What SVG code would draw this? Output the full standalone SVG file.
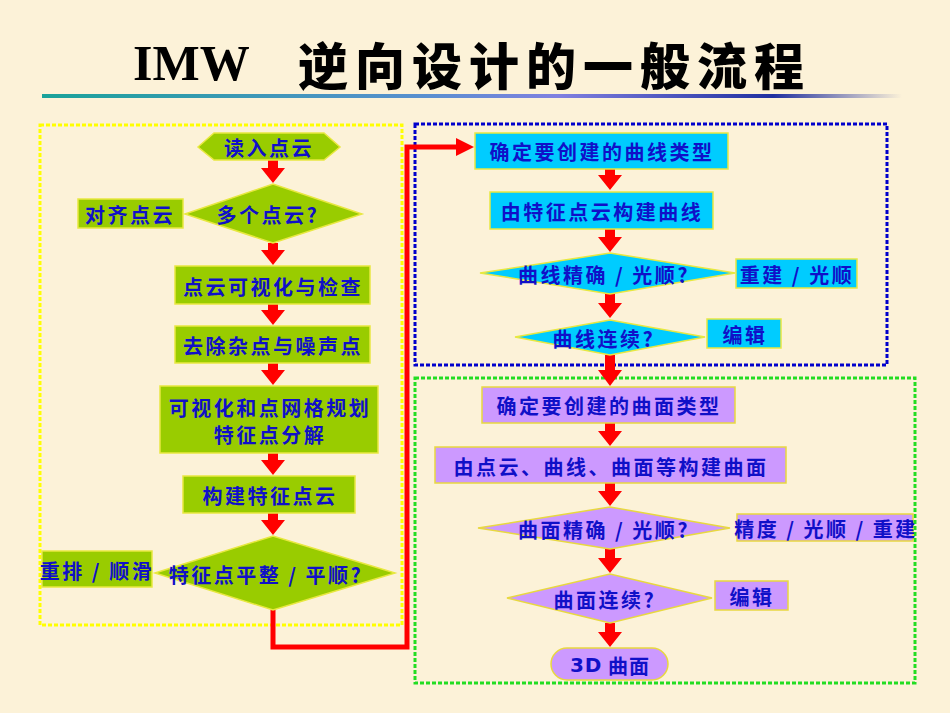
<svg xmlns="http://www.w3.org/2000/svg" width="950" height="713" viewBox="0 0 950 713">
<defs>
<linearGradient id="ln" x1="0" x2="1" y1="0" y2="0">
<stop offset="0" stop-color="#1aa39a"/><stop offset="0.45" stop-color="#5a8fd0"/><stop offset="0.6" stop-color="#8080e0"/><stop offset="0.85" stop-color="#2030a0"/><stop offset="1" stop-color="#2030a0" stop-opacity="0"/>
</linearGradient>
</defs>
<style>
text{font-family:"Noto Sans CJK SC",sans-serif;font-weight:bold;fill:#1010c8;font-size:20px;letter-spacing:2.5px;text-anchor:middle;dominant-baseline:central}
.g{fill:#99cc00;stroke:#e8e840;stroke-width:1.5}
.b{fill:#00ccff;stroke:#e8e840;stroke-width:1.5}
.p{fill:#cc99ff;stroke:#e8d840;stroke-width:1.5}
.arr{fill:#ff0000}
.frame{fill:none;stroke-width:3;stroke-dasharray:4 2}
</style>
<rect width="950" height="713" fill="#fcf2d8"/>
<text y="63" style="font-family:'Liberation Serif',serif;font-size:50px;fill:#000;text-anchor:start;letter-spacing:0"><tspan x="133">IMW</tspan><tspan x="298" style="font-family:'Noto Sans CJK SC',sans-serif;font-weight:900;font-size:50px;letter-spacing:7px">逆向设计的一般流程</tspan></text>
<rect x="42" y="94" width="860" height="4" fill="url(#ln)"/>
<rect class="frame" x="40" y="125" width="362" height="500" stroke="#ffff00"/>
<rect class="frame" x="415" y="124" width="472" height="241" stroke="#0000cc"/>
<rect class="frame" x="415" y="378" width="500" height="305" stroke="#22dd22"/>
<g id="connectors">
<polyline points="273,610 273,647 407,647 407,147 458,147" fill="none" stroke="#ff0000" stroke-width="5"/>
<polygon class="arr" points="456,138 474,147 456,156"/>
<g class="arr">
<polygon points="268,160 278,160 278,168 285,168 273,183 261,168 268,168"/>
<polygon points="268,243 278,243 278,250 285,250 273,265 261,250 268,250"/>
<polygon points="268,304 278,304 278,310 285,310 273,325 261,310 268,310"/>
<polygon points="268,363 278,363 278,370 285,370 273,385 261,370 268,370"/>
<polygon points="268,453 278,453 278,460 285,460 273,475 261,460 268,460"/>
<polygon points="268,513 278,513 278,520 285,520 273,535 261,520 268,520"/>
<polygon points="605,169 615,169 615,175 622,175 610,190 598,175 605,175"/>
<polygon points="605,229 615,229 615,237 622,237 610,252 598,237 605,237"/>
<polygon points="605,294 615,294 615,303 622,303 610,318 598,303 605,303"/>
<polygon points="605,355 615,355 615,370 622,370 610,386 598,370 605,370"/>
<polygon points="605,423 615,423 615,431 622,431 610,446 598,431 605,431"/>
<polygon points="605,483 615,483 615,491 622,491 610,506 598,491 605,491"/>
<polygon points="605,549 615,549 615,558 622,558 610,573 598,558 605,558"/>
<polygon points="605,623 615,623 615,632 622,632 610,647 598,632 605,632"/>
</g>
</g>
<g id="n1"><polygon class="g" points="198,147 214,133 324,133 340,147 324,160 214,160"/><text x="269" y="147">读入点云</text></g>
<g id="n2"><polygon class="g" points="185,214 273,184 362,214 273,243"/><text x="268" y="214">多个点云?</text></g>
<g id="n2b"><rect class="g" x="78" y="199" width="105" height="29"/><text x="130" y="214">对齐点云</text></g>
<g id="n3"><rect class="g" x="175" y="266" width="195" height="38"/><text x="273" y="286">点云可视化与检查</text></g>
<g id="n4"><rect class="g" x="175" y="326" width="195" height="37"/><text x="273" y="345">去除杂点与噪声点</text></g>
<g id="n5"><rect class="g" x="160" y="386" width="218" height="67"/><text x="270" y="407">可视化和点网格规划</text><text x="270" y="434">特征点分解</text></g>
<g id="n6"><rect class="g" x="183" y="476" width="172" height="37"/><text x="270" y="495">构建特征点云</text></g>
<g id="n7"><polygon class="g" points="155,573 273,536 395,573 273,610"/><text x="266" y="574">特征点平整 / 平顺?</text></g>
<g id="n7b"><rect class="g" x="42" y="551" width="110" height="36"/><text x="97" y="570">重排 / 顺滑</text></g>
<g id="c1"><rect class="b" x="475" y="133" width="253" height="36"/><text x="602" y="151">确定要创建的曲线类型</text></g>
<g id="c2"><rect class="b" x="490" y="192" width="223" height="37"/><text x="602" y="211">由特征点云构建曲线</text></g>
<g id="c3"><polygon class="b" points="480,273 610,253 735,273 610,294"/><text x="604" y="274">曲线精确 / 光顺?</text></g>
<g id="c3b"><rect class="b" x="736" y="259" width="121" height="29"/><text x="797" y="274">重建 / 光顺</text></g>
<g id="c4"><polygon class="b" points="515,337 610,320 705,337 610,355"/><text x="604" y="338">曲线连续?</text></g>
<g id="c4b"><rect class="b" x="707" y="319" width="74" height="29"/><text x="745" y="334">编辑</text></g>
<g id="s1"><rect class="p" x="482" y="387" width="253" height="36"/><text x="609" y="405">确定要创建的曲面类型</text></g>
<g id="s2"><rect class="p" x="435" y="447" width="351" height="36"/><text x="611" y="466">由点云、曲线、曲面等构建曲面</text></g>
<g id="s3"><polygon class="p" points="478,528 610,507 730,528 610,549"/><text x="604" y="529">曲面精确 / 光顺?</text></g>
<g id="s3b"><rect class="p" x="737" y="514" width="176" height="27"/><text x="826" y="528">精度 / 光顺 / 重建</text></g>
<g id="s4"><polygon class="p" points="507,598 610,574 712,598 610,623"/><text x="605" y="599">曲面连续?</text></g>
<g id="s4b"><rect class="p" x="715" y="581" width="73" height="29"/><text x="752" y="596">编辑</text></g>
<g id="s5"><rect class="p" x="551" y="648" width="117" height="32" rx="16"/><text x="610" y="665" style="letter-spacing:1px"><tspan style="font-family:'DejaVu Sans',sans-serif;font-size:20px">3D</tspan> 曲面</text></g>
</svg>
